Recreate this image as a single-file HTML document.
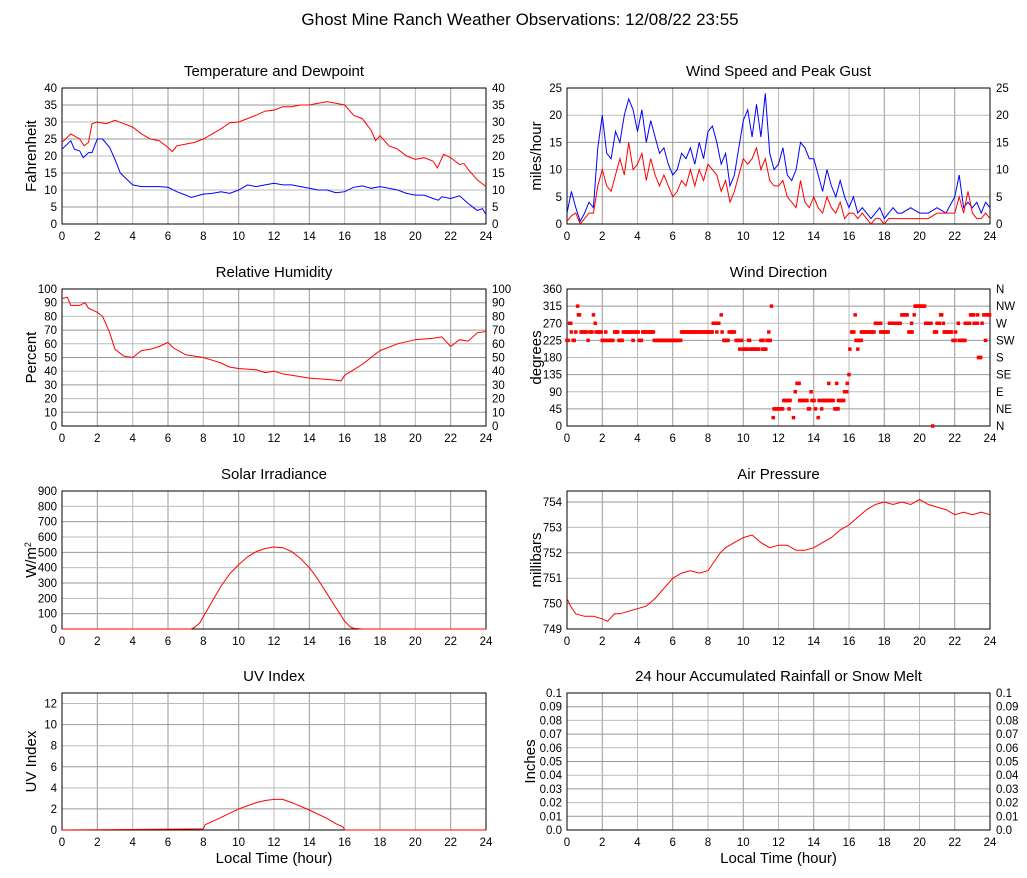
<!DOCTYPE html>
<html><head><meta charset="utf-8"><style>
body{margin:0;background:#fff;}
svg{display:block;font-family:"Liberation Sans",sans-serif;}
</style></head><body>
<svg id="c" width="1027" height="878" viewBox="0 0 1027 878">
<rect width="1027" height="878" fill="#fff"/>
<text x="520" y="25" font-size="17" text-anchor="middle">Ghost Mine Ranch Weather Observations: 12/08/22 23:55</text>
</svg>
<script>
const tempT=[0,0.5,1,1.25,1.5,1.7,2,2.5,3,3.5,4,4.5,5,5.5,6,6.25,6.5,7,7.5,8,8.5,9,9.5,10,10.5,11,11.5,12,12.5,13,13.5,14,14.5,15,15.5,16,16.5,17,17.5,17.75,18,18.5,19,19.5,20,20.5,21,21.25,21.6,22,22.5,22.75,23,23.5,24];
const tempV=[24,26.5,25,23,24,29.5,30,29.5,30.5,29.5,28.5,26.5,25,24.5,22.5,21.3,23,23.5,24,25,26.5,28,29.8,30,31,32,33.2,33.5,34.5,34.5,35,35,35.5,36,35.5,35,32,31,27.5,24.5,26,23,22,20,19,19.5,18.5,16.5,20.5,19.5,17.5,17.8,16,13,11];
const dewT=[0,0.5,0.7,1,1.2,1.5,1.7,2,2.3,2.7,3,3.3,3.5,4,4.5,5,5.5,6,6.5,7,7.3,8,8.5,9,9.5,10,10.5,11,11.5,12,12.5,13,13.5,14,14.5,15,15.5,16,16.5,17,17.5,18,18.5,19,19.5,20,20.5,21,21.3,21.5,22,22.5,23,23.5,23.8,24];
const dewV=[22,24.5,22,21.5,19.5,21,21,25,25,22.5,19,15,14,11.5,11,11,11,10.8,9.5,8.5,7.8,8.8,9,9.5,9,10,11.5,11,11.5,12,11.5,11.5,11,10.5,10,10,9.2,9.5,10.8,11.2,10.5,11,10.5,10,9,8.5,8.5,7.5,7,8,7.5,8.3,6,4,4.5,2.8];
const rhT=[0,0.3,0.5,1,1.3,1.5,2,2.3,2.7,3,3.5,4,4.5,5,5.5,6,6.3,7,8,8.5,9,9.5,10,11,11.5,12,12.5,13,14,15,15.8,16,17,18,19,20,21,21.5,22,22.5,23,23.5,24];
const rhV=[93,94,88,88,90,86,83,80,68,56,51,50,55,56,58,61,57,52,50,48,46,43,42,41,39,40,38,37,35,34,33,37,45,55,60,63,64,65,58,63,62,68,69];
const windT=[0,0.25,0.5,0.75,1,1.25,1.5,1.75,2,2.25,2.5,2.75,3,3.25,3.5,3.75,4,4.25,4.5,4.75,5,5.25,5.5,5.75,6,6.25,6.5,6.75,7,7.25,7.5,7.75,8,8.25,8.5,8.75,9,9.25,9.5,9.75,10,10.25,10.5,10.75,11,11.25,11.5,11.75,12,12.25,12.5,12.75,13,13.25,13.5,13.75,14,14.25,14.5,14.75,15,15.25,15.5,15.75,16,16.25,16.5,16.75,17,17.25,17.5,17.75,18,18.25,18.5,18.75,19,19.5,20,20.5,21,21.5,22,22.25,22.5,22.75,23,23.25,23.5,23.75,24];
const gustV=[2,6,3,0.5,2,4,3,14,20,13,12,17,15,20,23,21,17,21,15,19,16,13,14,11,9,10,13,12,14,11,15,12,17,18,15,11,13,7,9,14,19,21,16,22,16,24,13,10,11,14,9,8,10,15,14,12,12,9,6,10,7,5,8,5,3,5,2,3,2,1,2,3,1,2,3,2,2,3,2,2,3,2,5,9,3,4,3,4,2,4,3];
const speedV=[0.5,1.5,2,0,1,2,2,7,10,7,6,9,12,9,15,10,11,13,8,12,9,7,9,7,5,6,8,7,10,7,10,8,11,10,9,6,8,4,6,9,12,11,12,14,10,12,8,7,7,8,5,4,3,8,4,3,5,3,2,5,3,2,4,1,2,2,1,2,1,0,1,1,0,1,1,1,1,1,1,1,2,2,2,5,2,6,2,1,1,2,1];
const dirStart=[0,0.15,0.25,0.35,0.5,0.6,0.65,0.8,1.2,1.3,1.5,1.6,1.65,2,2.2,2.3,2.7,2.95,3.2,3.75,3.8,4.1,4.3,4.95,6.5,8.3,8.5,8.55,8.75,8.8,8.9,9.2,9.6,9.8,9.85,10,10.3,10.4,11,11.1,11.35,11.45,11.6,11.7,11.75,12.3,12.6,12.85,12.95,13.05,13.2,13.7,13.85,13.9,14.1,14.25,14.3,14.45,14.5,14.85,15.2,15.3,15.4,15.75,15.9,16,16.05,16.15,16.35,16.4,16.5,16.7,17.5,17.8,18.3,19,19.4,19.55,19.7,19.75,20.35,20.75,20.85,21,21.2,21.35,21.4,21.9,22.05,22.2,22.25,22.4,22.6,22.9,23.1,23.3,23.35,23.55,23.65,23.75,23.8];
const dirEnd=[0.1,0.25,0.3,0.45,0.55,0.6,0.75,1.15,1.2,1.45,1.5,1.6,1.95,2.15,2.2,2.65,2.9,3.15,3.7,3.75,4.05,4.25,4.9,6.45,8.25,8.45,8.5,8.65,8.75,8.8,9.15,9.55,9.75,9.8,9.95,10.25,10.4,10.9,11.15,11.3,11.55,11.45,11.6,11.7,12.25,12.7,12.6,12.85,12.95,13.2,13.65,13.8,13.85,14.05,14.1,14.25,14.4,14.45,15.15,14.85,15.4,15.3,15.7,15.9,15.9,16,16.05,16.3,16.35,16.7,16.5,17.45,17.8,18.25,18.95,19.35,19.6,19.55,19.7,20.3,20.7,20.75,21,21.15,21.3,21.35,21.85,22.05,22.05,22.2,22.35,22.6,22.85,23.1,23.3,23.3,23.5,23.55,23.65,23.75,24];
const dirDeg=[225,270,247,225,247,315,292,247,225,247,292,270,247,225,247,225,247,225,247,225,247,225,247,225,247,270,247,270,292,247,225,247,225,202,225,202,225,202,225,202,225,247,315,22,45,67,45,22,90,112,67,45,90,67,45,22,67,45,67,112,45,112,67,90,112,135,202,247,292,225,202,247,270,247,270,292,247,270,292,315,270,0,247,270,292,270,247,225,247,270,225,225,270,292,270,292,180,270,292,225,292];
const solarT=[0,7.3,7.5,7.8,8,8.5,9,9.5,10,10.5,11,11.5,12,12.5,13,13.5,14,14.2,14.5,15,15.5,16,16.3,16.5,17,24];
const solarV=[0,0,10,40,80,180,280,360,420,470,505,525,535,530,505,460,400,370,320,230,140,50,15,5,0,0];
const presT=[0,0.2,0.5,1,1.5,2,2.3,2.7,3,3.5,4,4.5,5,5.5,6,6.5,7,7.5,8,8.3,8.7,9,9.5,10,10.5,11,11.5,12,12.5,13,13.5,14,14.5,15,15.5,16,16.5,17,17.5,18,18.5,19,19.5,20,20.5,21,21.5,22,22.5,23,23.5,24];
const presV=[750.2,749.9,749.6,749.5,749.5,749.4,749.3,749.6,749.6,749.7,749.8,749.9,750.2,750.6,751,751.2,751.3,751.2,751.3,751.6,752,752.2,752.4,752.6,752.7,752.4,752.2,752.3,752.3,752.1,752.1,752.2,752.4,752.6,752.9,753.1,753.4,753.7,753.9,754,753.9,754,753.9,754.1,753.9,753.8,753.7,753.5,753.6,753.5,753.6,753.5];
const uvT=[0,8,8.1,8.5,9,10,11,11.5,12,12.5,13,14,15,15.5,15.9,16,24];
const uvV=[0,0.1,0.5,0.8,1.2,2,2.6,2.8,2.9,2.9,2.6,1.9,1.1,0.6,0.3,0,0];
const xTicks=[0,2,4,6,8,10,12,14,16,18,20,22,24];

const NS='http://www.w3.org/2000/svg';
const svg=document.getElementById('c');
function mk(tag,attrs,parent){const e=document.createElementNS(NS,tag);for(const k in attrs)e.setAttribute(k,attrs[k]);(parent||svg).appendChild(e);return e;}

function panel(o){
  const g=mk('g',{});
  
  
  const X=h=>o.x0+(o.x1-o.x0)*h/24;
  const Y=v=>o.yb-(o.yb-o.yt)*(v-o.vmin)/(o.vtop-o.vmin);
  o.X=X;o.Y=Y;
  const cx=(o.x0+o.x1)/2;
  const t=mk('text',{x:cx,y:o.top-12,'font-size':15,'text-anchor':'middle'},g);t.textContent=o.title;
  
  
  const pb=Y(o.vmin), pt=o.top;
  for(const h of xTicks){
    if(h>0&&h<24){const l=mk('line',{x1:X(h),x2:X(h),y1:pt,y2:pb,stroke:(h%4==2)?'#999':'#bbb','stroke-width':1},g);
      }
    const tl=mk('text',{x:X(h),y:pb+16,'font-size':11.5,'text-anchor':'middle'},g);tl.textContent=h;
    
  }
  o.ticks.forEach((v,i)=>{
    const y=Y(v);
    if(y>pt+0.5&&y<pb-0.5){const l=mk('line',{x1:o.x0,x2:o.x1,y1:y,y2:y,stroke:(i%2)?'#999':'#bbb','stroke-width':1},g);
      }
    const tl=mk('text',{x:o.x0-5,y:y+4,'font-size':11.5,'text-anchor':'end'},g);tl.textContent=o.tickLabels?o.tickLabels[i]:v;
    
    if(o.right){const tr=mk('text',{x:o.x1+6,y:y+4,'font-size':11.5,'text-anchor':'start'},g);tr.textContent=o.right[i];
      }
  });
  const r=mk('rect',{x:o.x0,y:pt,width:o.x1-o.x0,height:pb-pt,fill:'none',stroke:'#000','stroke-width':1},g);
  
  const yl=mk('text',{x:0,y:0,'font-size':15,'text-anchor':'middle',transform:`translate(${o.x0-(o.labOff||26)},${(pt+pb)/2}) rotate(-90)`},g);
  if(o.ylabelHTML){yl.innerHTML=o.ylabelHTML;}else yl.textContent=o.ylabel;
  
  if(o.xlabel){const xl=mk('text',{x:cx,y:pb+33,'font-size':15,'text-anchor':'middle'},g);xl.textContent='Local Time (hour)';
    }
  o.g=g;return o;
}
function line(p,ts,vs,color,name){
  const d=ts.map((t,i)=>(i?'L':'M')+p.X(t).toFixed(1)+','+p.Y(vs[i]).toFixed(1)).join('');
  const e=mk('path',{d:d,fill:'none',stroke:color,'stroke-width':1},p.g);
  
  
}
const L0=62,L1=486,R0=567,R1=990;
const t5=[0,5,10,15,20,25,30,35,40];
const p1=panel({name:'temperature-panel',title:'Temperature and Dewpoint',x0:L0,x1:L1,top:88,yt:88,yb:224,vmin:0,vtop:40,ticks:t5,right:t5,ylabel:'Fahrenheit'});
line(p1,tempT,tempV,'#f00','temperature-line');line(p1,dewT,dewV,'#00f','dewpoint-line');
const w5=[0,5,10,15,20,25];
const p2=panel({name:'wind-speed-panel',title:'Wind Speed and Peak Gust',x0:R0,x1:R1,top:88,yt:88,yb:224,vmin:0,vtop:25,ticks:w5,right:w5,ylabel:'miles/hour'});
line(p2,windT,gustV,'#00f','gust-line');line(p2,windT,speedV,'#f00','speed-line');
const h10=[0,10,20,30,40,50,60,70,80,90,100];
const p3=panel({name:'humidity-panel',title:'Relative Humidity',x0:L0,x1:L1,top:289,yt:289,yb:426,vmin:0,vtop:100,ticks:h10,right:h10,ylabel:'Percent'});
line(p3,rhT,rhV,'#f00','humidity-line');
const dT=[0,45,90,135,180,225,270,315,360];
const p4=panel({name:'wind-direction-panel',title:'Wind Direction',x0:R0,x1:R1,top:289,yt:289,yb:426,vmin:0,vtop:360,ticks:dT,right:['N','NE','E','SE','S','SW','W','NW','N'],ylabel:'degrees'});
dirStart.forEach((s,i)=>{
  for(let t=s;t<=dirEnd[i]+0.001;t+=0.06){
    const r=mk('rect',{x:p4.X(t)-1.75,y:p4.Y(dirDeg[i])-1.75,width:3.5,height:3.5,fill:'#f00'},p4.g);
    
    
  }
});
const s100=[0,100,200,300,400,500,600,700,800,900];
const p5=panel({name:'solar-panel',title:'Solar Irradiance',x0:L0,x1:L1,top:491,yt:491,yb:629,vmin:0,vtop:900,ticks:s100,ylabelHTML:'W/m<tspan dy="-5" font-size="9">2</tspan>'});
line(p5,solarT,solarV,'#f00','solar-line');
const pr=[749,750,751,752,753,754];
const p6=panel({name:'pressure-panel',title:'Air Pressure',x0:R0,x1:R1,top:491,yt:502,yb:629,vmin:749,vtop:754,ticks:pr,ylabel:'millibars'});
line(p6,presT,presV,'#f00','pressure-line');
const u2=[0,2,4,6,8,10,12];
const p7=panel({name:'uv-panel',title:'UV Index',x0:L0,x1:L1,top:693,yt:693,yb:830,vmin:0,vtop:13,ticks:u2,ylabel:'UV Index',xlabel:true});
line(p7,uvT,uvV,'#f00','uv-line');
const rn=[0,0.01,0.02,0.03,0.04,0.05,0.06,0.07,0.08,0.09,0.1];
const rnL=['0.0','0.01','0.02','0.03','0.04','0.05','0.06','0.07','0.08','0.09','0.1'];
panel({name:'rainfall-panel',title:'24 hour Accumulated Rainfall or Snow Melt',x0:R0,x1:R1,top:693,yt:693,yb:830,vmin:0,vtop:0.1,ticks:rn,tickLabels:rnL,right:rnL,ylabel:'Inches',xlabel:true,labOff:32});
</script>
</body></html>
